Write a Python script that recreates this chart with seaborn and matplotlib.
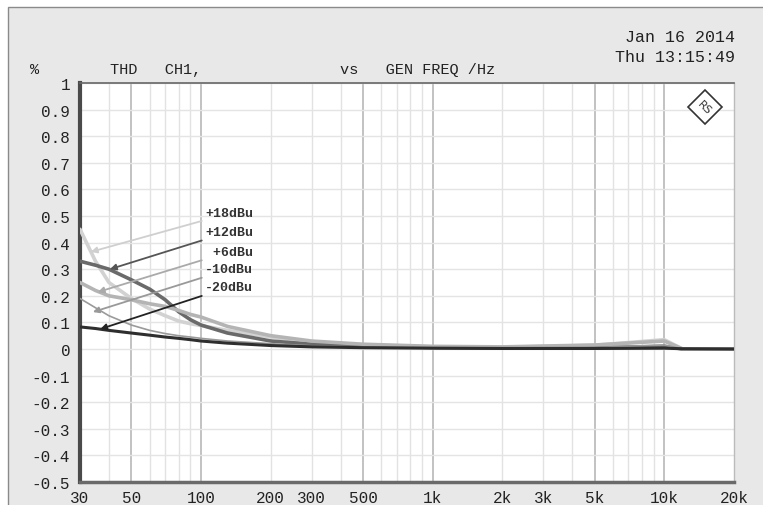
import matplotlib
matplotlib.use("Agg")
import matplotlib.pyplot as plt
import matplotlib.patches as mpatches
import matplotlib.ticker as mticker
import seaborn as sns
import pandas as pd
import numpy as np

freqs = [30, 35, 40, 50, 60, 70, 80, 90, 100, 130, 200, 300, 500, 1000, 2000, 5000, 10000, 12000, 20000]
thd_p18 = [0.45, 0.33, 0.25, 0.19, 0.15, 0.125, 0.105, 0.095, 0.088, 0.07, 0.045, 0.025, 0.015, 0.008, 0.006, 0.014, 0.035, 0.0, 0.0]
thd_p12 = [0.33, 0.315, 0.30, 0.26, 0.225, 0.185, 0.14, 0.11, 0.09, 0.06, 0.03, 0.018, 0.01, 0.006, 0.004, 0.005, 0.01, 0.0, 0.0]
thd_p6 = [0.25, 0.22, 0.20, 0.185, 0.17, 0.16, 0.145, 0.13, 0.12, 0.085, 0.05, 0.03, 0.018, 0.01, 0.008, 0.015, 0.03, 0.0, 0.0]
thd_m10 = [0.19, 0.155, 0.125, 0.09, 0.07, 0.058, 0.05, 0.045, 0.04, 0.03, 0.02, 0.012, 0.008, 0.005, 0.004, 0.006, 0.015, 0.0, 0.0]
thd_m20 = [0.083, 0.077, 0.07, 0.06, 0.052, 0.045, 0.04, 0.035, 0.03, 0.022, 0.013, 0.008, 0.005, 0.003, 0.002, 0.002, 0.003, 0.001, 0.0]

series_names = ["+18dBu", "+12dBu", " +6dBu", "-10dBu", "-20dBu"]
series_vals = [thd_p18, thd_p12, thd_p6, thd_m10, thd_m20]
series_colors = ["#d2d2d2", "#6a6a6a", "#b4b4b4", "#9a9a9a", "#2e2e2e"]
series_lw = [2.6, 2.6, 2.6, 1.2, 2.2]
arrow_colors = ["#cfcfcf", "#555555", "#aaaaaa", "#999999", "#222222"]
arrow_tips_f = [33.4, 40.4, 35.8, 34.1, 36.7]
arrow_tips_y = [0.365, 0.30, 0.214, 0.139, 0.075]
label_y = [0.51, 0.44, 0.365, 0.30, 0.233]

xticks = [30, 50, 100, 200, 300, 500, 1000, 2000, 3000, 5000, 10000, 20000]
xticklabels = ["30", "50", "100", "200", "300", "500", "1k", "2k", "3k", "5k", "10k", "20k"]
yticks = [round(v, 1) for v in np.arange(-0.5, 1.01, 0.1)]
yticklabels = ["%g" % (v if abs(v) > 1e-9 else 0.0) for v in yticks]
yticklabels = [("0" if l in ("-0", "0") else l) for l in yticklabels]

sns.set_theme(style="white")
mono = ["Liberation Mono", "DejaVu Sans Mono"]
plt.rcParams["font.family"] = mono

W, H = 763, 506
fig = plt.figure(figsize=(W / 100, H / 100), dpi=100, facecolor="white")
bg = mpatches.Rectangle((8 / W, -0.01), 1.0, 1 - 8 / H + 0.01, transform=fig.transFigure,
                        facecolor="#e8e8e8", edgecolor="#8a8a8a", linewidth=1.0, zorder=-10)
fig.patches.append(bg)

ax = fig.add_axes([80 / W, 1 - 483 / H, (734 - 80) / W, (483 - 84) / H])
ax.set_facecolor("white")
ax.set_xscale("log")
ax.set_xlim(30, 20000)
ax.set_ylim(-0.5, 1.0)

# grid
light_v = [40, 60, 70, 80, 90, 200, 300, 400, 600, 700, 800, 900, 2000, 3000, 4000, 6000, 7000, 8000, 9000]
dark_v = [50, 100, 500, 1000, 5000, 10000]
for v in light_v:
    ax.axvline(v, color="#e2e2e2", lw=1.0, zorder=0)
for v in dark_v:
    ax.axvline(v, color="#b8b8b8", lw=1.2, zorder=0)
for v in yticks:
    ax.axhline(v, color="#e4e4e4", lw=1.0, zorder=0)

for name, vals, c, lw in zip(series_names, series_vals, series_colors, series_lw):
    df = pd.DataFrame({"f": freqs, "thd": vals})
    sns.lineplot(data=df, x="f", y="thd", ax=ax, color=c, lw=lw, zorder=3)

for name, tf, ty, ly, ac in zip(series_names, arrow_tips_f, arrow_tips_y, label_y, arrow_colors):
    ax.annotate(name, xy=(tf, ty), xytext=(104, ly), ha="left", va="center",
                fontsize=9.5, fontweight="bold", color="#333333", family=mono,
                arrowprops=dict(arrowstyle="-|>", color=ac, lw=1.3, mutation_scale=9,
                                shrinkA=0, shrinkB=0), zorder=5)
ax.set_xlabel("")
ax.set_ylabel("")

ax.set_xticks(xticks)
ax.set_xticklabels(xticklabels)
ax.xaxis.set_minor_locator(mticker.NullLocator())
ax.set_yticks(yticks)
ax.set_yticklabels(yticklabels)
ax.tick_params(axis="both", length=0, labelsize=11.5, colors="#222222")
ax.tick_params(axis="x", pad=6)
ax.tick_params(axis="y", pad=7)

ax.spines["left"].set_color("#4a4a4a")
ax.spines["left"].set_linewidth(3)
ax.spines["bottom"].set_color("#6a6a6a")
ax.spines["bottom"].set_linewidth(2.5)
ax.spines["top"].set_color("#666666")
ax.spines["top"].set_linewidth(1.2)
ax.spines["right"].set_color("#bbbbbb")
ax.spines["right"].set_linewidth(1.0)

# header texts
fig.text(35 / W, 1 - 70 / H, "%", fontsize=11, color="#222222", va="center", ha="center")
fig.text(110 / W, 1 - 70 / H, "THD   CH1,", fontsize=11, color="#222222", va="center")
fig.text(340 / W, 1 - 70 / H, "vs   GEN FREQ /Hz", fontsize=11, color="#222222", va="center")
fig.text(735 / W, 1 - 37 / H, "Jan 16 2014", fontsize=12, color="#222222", va="center", ha="right")
fig.text(735 / W, 1 - 58 / H, "Thu 13:15:49", fontsize=12, color="#222222", va="center", ha="right")

# R&S logo
ax.plot([0.955], [0.94], marker="D", markersize=17, markerfacecolor="white",
        markeredgecolor="#333333", markeredgewidth=1.2, transform=ax.transAxes, clip_on=False, zorder=6)
ax.text(0.955, 0.94, "RS", transform=ax.transAxes, fontsize=8, rotation=-45,
        ha="center", va="center", color="#333333", family=["DejaVu Sans"], zorder=7)

fig.savefig("out.png", dpi=100, facecolor=fig.get_facecolor())
